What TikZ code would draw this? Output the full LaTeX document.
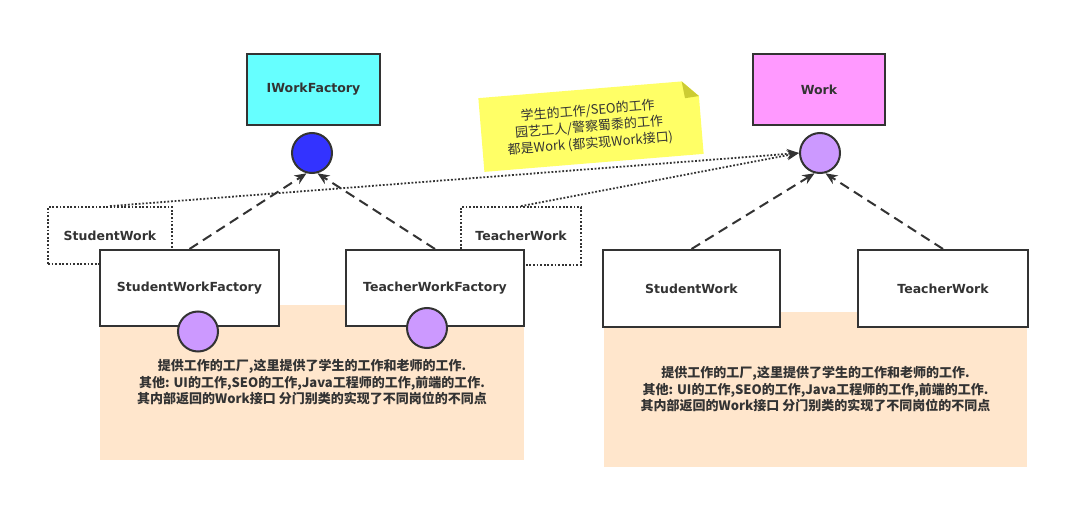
\documentclass[tikz,border=0pt]{standalone}
\usepackage{fontspec}
\setmainfont{DejaVu Sans}
\newfontfamily\cjk{Noto Sans CJK SC}
\usetikzlibrary{arrows.meta}

\definecolor{lineg}{HTML}{333333}
\definecolor{ifcyan}{HTML}{66FFFF}
\definecolor{ifmag}{HTML}{FF99FF}
\definecolor{portblue}{HTML}{3333FF}
\definecolor{portpurple}{HTML}{CC99FF}
\definecolor{peach}{HTML}{FFE6CC}
\definecolor{noteyellow}{HTML}{FFFF66}
\definecolor{notefold}{HTML}{CCCC33}

\begin{document}
\begin{tikzpicture}[x=1pt, y=-1pt,
    classbox/.style={draw=lineg, line width=2pt, fill=white, text=lineg,
        font=\fontsize{12.5}{15}\selectfont\bfseries, inner sep=0pt},
    ghostbox/.style={draw=lineg, line width=1.8pt, dash pattern=on 1.8pt off 1.8pt,
        text=lineg, font=\fontsize{12.5}{15}\selectfont\bfseries, inner sep=0pt},
    port/.style={circle, draw=lineg, line width=2pt, minimum size=40pt, inner sep=0pt},
    area/.style={fill=peach, text=lineg, align=center, inner sep=0pt,
        font=\cjk\fontsize{13}{16.5}\selectfont\bfseries},
    realize/.style={draw=lineg, line width=2pt, dash pattern=on 10pt off 6pt,
        -{Stealth[length=12pt, width=10pt]}},
    dotline/.style={draw=lineg, line width=1.8pt, dash pattern=on 1.8pt off 1.8pt,
        -{Stealth[length=12pt, width=10pt]}}]

    \useasboundingbox (0,0) rectangle (1090,529);

    % peach areas with their notes
    \node[area, minimum width=424pt, minimum height=155pt] (leftarea) at (312,382.5)
        {提供工作的工厂,这里提供了学生的工作和老师的工作.\\
         其他: UI的工作,SEO的工作,Java工程师的工作,前端的工作.\\
         其内部返回的Work接口 分门别类的实现了不同岗位的不同点};
    \node[area, minimum width=423pt, minimum height=155pt] (rightarea) at (815.5,389.5)
        {提供工作的工厂,这里提供了学生的工作和老师的工作.\\
         其他: UI的工作,SEO的工作,Java工程师的工作,前端的工作.\\
         其内部返回的Work接口 分门别类的实现了不同岗位的不同点};

    % products behind the factories
    \node[ghostbox, minimum width=124pt, minimum height=57pt] (sw) at (110,235.5) {StudentWork};
    \node[ghostbox, minimum width=120pt, minimum height=58pt] (tw) at (521,236) {TeacherWork};

    % sticky note
    \begin{scope}[shift={(591,126)}, rotate=4.7]
        \fill[noteyellow] (-110,-37) -- (94,-37) -- (110,-21) -- (110,37) -- (-110,37) -- cycle;
        \fill[notefold] (94,-37) -- (110,-21) -- (96,-20) -- cycle;
        \node[transform shape, align=center, text=lineg,
            font=\cjk\fontsize{13}{16.5}\selectfont] (note) at (-2,1)
            {学生的工作/SEO的工作\\园艺工人/警察蜀黍的工作\\都是Work (都实现Work接口)};
    \end{scope}

    % interfaces
    \node[classbox, fill=ifcyan, minimum width=133pt, minimum height=71pt] (iwf) at (313.5,89.5) {IWorkFactory};
    \node[classbox, fill=ifmag, minimum width=132pt, minimum height=71pt] (work) at (819,89.5) {Work};

    % implementations
    \node[classbox, minimum width=179pt, minimum height=76pt] (swf) at (189.5,288) {StudentWorkFactory};
    \node[classbox, minimum width=178pt, minimum height=76pt] (twf) at (435,288) {TeacherWorkFactory};
    \node[classbox, minimum width=177pt, minimum height=77pt] (swr) at (691.5,288.5) {StudentWork};
    \node[classbox, minimum width=170pt, minimum height=77pt] (twr) at (943,288.5) {TeacherWork};

    % ports
    \node[port, fill=portblue] (fcirc) at (312,153) {};
    \node[port, fill=portpurple] (wcirc) at (820,153) {};
    \node[port, fill=portpurple] (swfcirc) at (198,331.5) {};
    \node[port, fill=portpurple] (twfcirc) at (427,328) {};

    \draw[dotline] (sw.north) -- (wcirc.west);
    \draw[dotline] (tw.north) -- (wcirc.west);

    \draw[realize] (swf.north) -- (fcirc.-105);
    \draw[realize] (twf.north) -- (fcirc.-75);
    \draw[realize] (swr.north) -- (wcirc.-105);
    \draw[realize] (twr.north) -- (wcirc.-75);

\end{tikzpicture}
\end{document}
